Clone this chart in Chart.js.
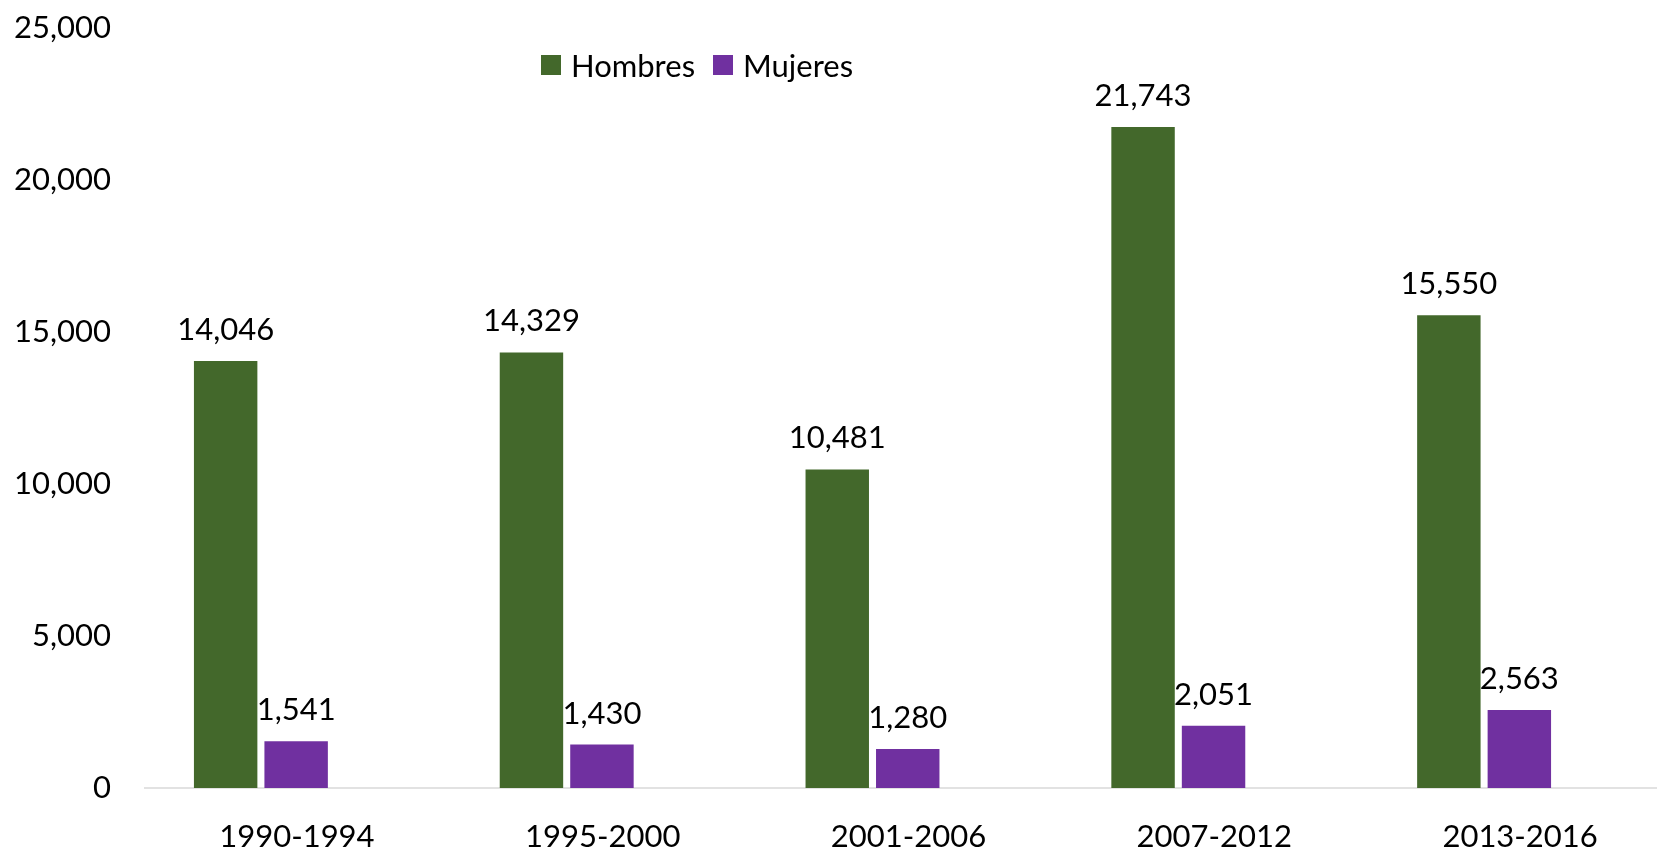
<!DOCTYPE html>
<html>
<head>
<meta charset="utf-8">
<script src="https://cdn.jsdelivr.net/npm/chart.js@4.4.0/dist/chart.umd.min.js"></script>
<style>
  html, body { margin: 0; padding: 0; background: #fff; }
  #wrap { position: relative; width: 1657px; height: 850px; }
  #legend { position: absolute; left: 541px; top: 47px; display: flex; align-items: center;
            font-family: Lato, sans-serif; font-size: 31px; line-height: 36px; color: #000; }
  .item { display: flex; align-items: center; margin-right: 18px; }
  .sw { width: 20px; height: 20px; margin-right: 10px; }
</style>
</head>
<body>
<div id="wrap">
  <canvas id="c" width="1657" height="850"></canvas>
  <div id="legend"></div>
</div>
<script>
const categories = ['1990-1994', '1995-2000', '2001-2006', '2007-2012', '2013-2016'];
const hombres = [14046, 14329, 10481, 21743, 15550];
const mujeres = [1541, 1430, 1280, 2051, 2563];
const seriesNames = ['Hombres', 'Mujeres'];
const seriesColors = ['#43682B', '#7030A0'];
const yTicks = [0, 5000, 10000, 15000, 20000, 25000];

const FONT = { family: 'Lato, sans-serif', size: 31 };
const fmt = v => v.toLocaleString('en-US');

const valueLabels = {
  id: 'valueLabels',
  afterDatasetsDraw(chart) {
    const ctx = chart.ctx;
    ctx.save();
    ctx.font = FONT.size + 'px ' + FONT.family;
    ctx.fillStyle = '#000';
    ctx.textAlign = 'center';
    ctx.textBaseline = 'alphabetic';
    chart.data.datasets.forEach((ds, di) => {
      chart.getDatasetMeta(di).data.forEach((bar, i) => {
        ctx.fillText(fmt(ds.data[i]), bar.x, bar.y - 21);
      });
    });
    ctx.restore();
  }
};

// y tick labels, right-aligned slightly past the plot's left edge (as in the reference)
const yLabels = {
  id: 'yLabels',
  afterDraw(chart) {
    const ctx = chart.ctx;
    const ys = chart.scales.y;
    ctx.save();
    ctx.font = FONT.size + 'px ' + FONT.family;
    ctx.fillStyle = '#000';
    ctx.textAlign = 'right';
    ctx.textBaseline = 'middle';
    ys.ticks.forEach((t, i) => {
      ctx.fillText(fmt(t.value), ys.right + 3, ys.getPixelForTick(i));
    });
    ctx.restore();
  }
};

const baseline = {
  id: 'baseline',
  beforeDatasetsDraw(chart) {
    const ctx = chart.ctx;
    const y = chart.scales.y.getPixelForValue(0);
    ctx.save();
    ctx.strokeStyle = '#D9D9D9';
    ctx.lineWidth = 1.5;
    ctx.beginPath();
    ctx.moveTo(144, y);
    ctx.lineTo(chart.width, y);
    ctx.stroke();
    ctx.restore();
  }
};

const chart = new Chart(document.getElementById('c'), {
  type: 'bar',
  data: {
    labels: categories,
    datasets: [
      { label: seriesNames[0], data: hombres, backgroundColor: seriesColors[0] },
      { label: seriesNames[1], data: mujeres, backgroundColor: seriesColors[1] }
    ]
  },
  options: {
    responsive: false,
    animation: false,
    devicePixelRatio: 1,
    layout: { padding: { top: 28, right: 20, left: 0, bottom: 0 } },
    datasets: { bar: { categoryPercentage: 0.461, barPercentage: 0.9 } },
    plugins: { legend: { display: false }, tooltip: { enabled: false } },
    scales: {
      x: {
        grid: { display: false, drawTicks: false },
        border: { display: false },
        ticks: { font: FONT, color: '#000', padding: 30, labelOffset: 36, maxRotation: 0 },
        afterFit(s) { s.height = 62; }
      },
      y: {
        min: 0, max: 25000,
        afterBuildTicks(s) { s.ticks = yTicks.map(v => ({ value: v })); },
        grid: { display: false, drawTicks: false },
        border: { display: false },
        ticks: { display: false },
        afterFit(s) { s.width = 108; }
      }
    }
  },
  plugins: [valueLabels, yLabels, baseline]
});

const legend = document.getElementById('legend');
seriesNames.forEach((n, i) => {
  const it = document.createElement('div');
  it.className = 'item';
  const sw = document.createElement('div');
  sw.className = 'sw';
  sw.style.background = seriesColors[i];
  const t = document.createElement('span');
  t.textContent = n;
  it.appendChild(sw); it.appendChild(t);
  legend.appendChild(it);
});
</script>
</body>
</html>
